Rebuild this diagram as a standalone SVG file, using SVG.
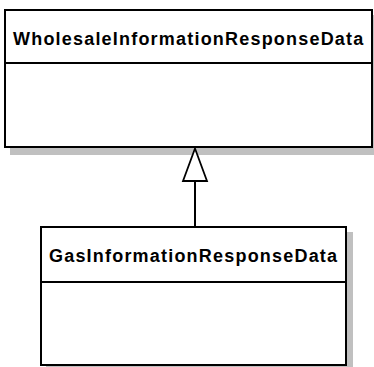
<svg xmlns="http://www.w3.org/2000/svg" width="374" height="367" viewBox="0 0 374 367">
<style>
.shadow{fill:#c0c0c0;stroke:none}
.box{fill:#ffffff;stroke:#000000;stroke-width:2}
.sep{stroke:#000000;stroke-width:2}
.title{font-family:"Liberation Sans",Arial,sans-serif;font-weight:bold;font-size:18px;letter-spacing:1.2px;fill:#000000}
.edge{stroke:#000000;stroke-width:2;fill:none}
.head{fill:#ffffff;stroke:#000000;stroke-width:1.8;stroke-linejoin:miter}
</style>
<rect width="374" height="367" fill="#ffffff"/>
<g id="WholesaleInformationResponseData">
<rect class="shadow" x="10" y="15" width="367" height="140"/>
<rect class="box" x="5" y="10" width="367" height="137"/>
<line class="sep" x1="5" y1="63" x2="372" y2="63"/>
<text class="title" x="13" y="45">WholesaleInformationResponseData</text>
</g>
<g id="GasInformationResponseData">
<rect class="shadow" x="46" y="232" width="307" height="140"/>
<rect class="box" x="41" y="227" width="305" height="138"/>
<line class="sep" x1="41" y1="282" x2="346" y2="282"/>
<text class="title" x="49" y="262">GasInformationResponseData</text>
</g>
<g id="connectors">
<line class="edge" x1="195" y1="181" x2="195" y2="227"/>
<polygon class="head" points="195,148.5 183,181 207,181"/>
</g>
</svg>
